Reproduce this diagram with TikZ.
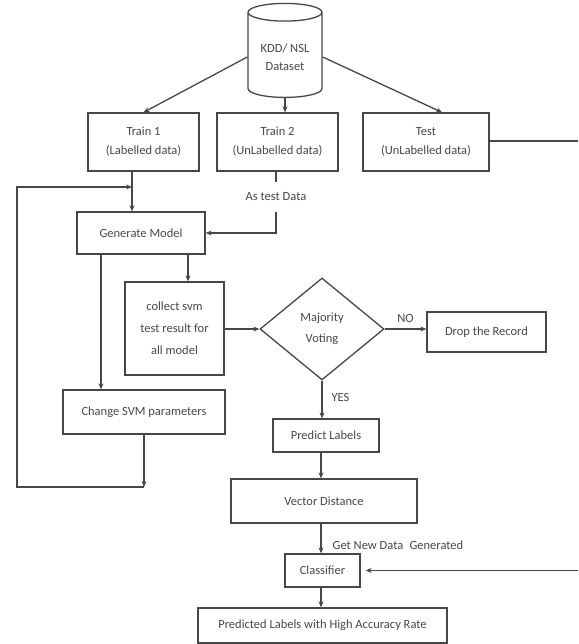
\documentclass[tikz,border=0pt]{standalone}
\usepackage{fontspec}
\setmainfont{Carlito}
\usetikzlibrary{shapes.geometric,arrows.meta}

\tikzset{
  box/.style={draw, line width=1.3pt, align=center, inner sep=2pt, font=\fontsize{12.5}{19}\selectfont},
  decision/.style={draw, diamond, line width=1.3pt, align=center, inner sep=0pt, font=\fontsize{12.5}{21}\selectfont},
  db/.style={draw, cylinder, shape border rotate=90, aspect=0.32, line width=1.3pt, align=center, font=\fontsize{12.5}{18}\selectfont},
  lbl/.style={font=\fontsize{12.5}{15}\selectfont, inner sep=1pt}
}

\begin{document}
\begin{tikzpicture}[x=1pt, y=-1pt, color=black!72, line width=1.3pt, >={Stealth[length=6pt,width=5pt]}]
  \useasboundingbox (0,0) rectangle (578,644);

  % Dataset and the three splits
  \node[db, minimum width=74pt, minimum height=94pt] (kdd) at (285,57) {KDD/ NSL\\Dataset};
  \node[box, minimum width=111pt, minimum height=58pt] (t1) at (143.5,142) {Train 1\\(Labelled data)};
  \node[box, minimum width=121pt, minimum height=58pt] (t2) at (277.5,142) {Train 2\\(UnLabelled data)};
  \node[box, minimum width=126pt, minimum height=58pt] (t3) at (426,142) {Test\\(UnLabelled data)};

  % Model building
  \node[box, minimum width=128pt, minimum height=42pt] (gm) at (141,233) {Generate Model};
  \node[lbl, inner ysep=10pt] (astest) at (276,197) {As test Data};
  \node[box, minimum width=99pt, minimum height=93pt, font=\fontsize{12.5}{22}\selectfont] (col) at (174.5,328.5) {collect svm\\test result for\\all model};
  \node[box, minimum width=162pt, minimum height=44pt] (svm) at (144,412) {Change SVM parameters};

  % Voting and labelling
  \node[decision, minimum width=124pt, minimum height=102pt] (vote) at (322,329) {Majority\\Voting};
  \node[box, minimum width=119pt, minimum height=40pt] (drop) at (486.5,332) {Drop the Record};
  \node[box, minimum width=106pt, minimum height=33pt] (pl) at (326,435.5) {Predict Labels};
  \node[box, minimum width=186pt, minimum height=44pt] (vd) at (324,501) {Vector Distance};
  \node[box, minimum width=75pt, minimum height=33pt] (cls) at (322.5,570.5) {Classifier};
  \node[box, minimum width=249pt, minimum height=35pt] (out) at (322.5,625.5) {Predicted Labels with High Accuracy Rate};
  \node[lbl, anchor=west] (gnd) at (331,545) {Get New Data\enspace Generated};

  % helper points for the connectors
  \coordinate (axis) at (321,0);
  \coordinate (fb) at (132,187);
  \coordinate (gml) at (101,0);
  \coordinate (gmr) at (188,0);
  \coordinate (loopa) at (144,487);
  \coordinate (loopc) at (17,187);
  \coordinate (testout) at (578,141);
  \coordinate (clsin) at (578,570.5);

  % Dataset to splits
  \draw[->] (kdd.west) -- (t1.north);
  \draw[->] (kdd.south) -- (kdd.south |- t2.north);
  \draw[->] (kdd.east) -- ([xshift=16pt]t3.north);
  \draw (t3.east |- testout) -- (testout);

  % Training loop
  \draw[->] (t1.south -| fb) -- (gm.north -| fb);
  \draw (t2.south -| astest) -- (astest.north);
  \draw[->] (astest.south) |- (gm.east);
  \draw[->] (gm.south -| gmr) -- (col.north -| gmr);
  \draw[->] (gm.south -| gml) -- (svm.north -| gml);
  \draw[->] (svm.south) -- (loopa);
  \draw[->] (loopa) -| (loopc) -- (fb);

  % Voting
  \draw[->] (col.east |- vote) -- (vote.west);
  \draw[->] (vote.east) -- (vote.east -| drop.west) node[midway, above=5pt, lbl] {NO};
  \draw[->] (vote.south) -- (vote.south |- pl.north) node[pos=0.45, right=8pt, lbl] {YES};

  % Labelling and classification
  \draw[->] (pl.south -| axis) -- (vd.north -| axis);
  \draw[->] (vd.south -| axis) -- (cls.north -| axis);
  \draw[->] (clsin) -- ([xshift=5pt]cls.east);
  \draw[->] (cls.south -| axis) -- (out.north -| axis);
\end{tikzpicture}
\end{document}
